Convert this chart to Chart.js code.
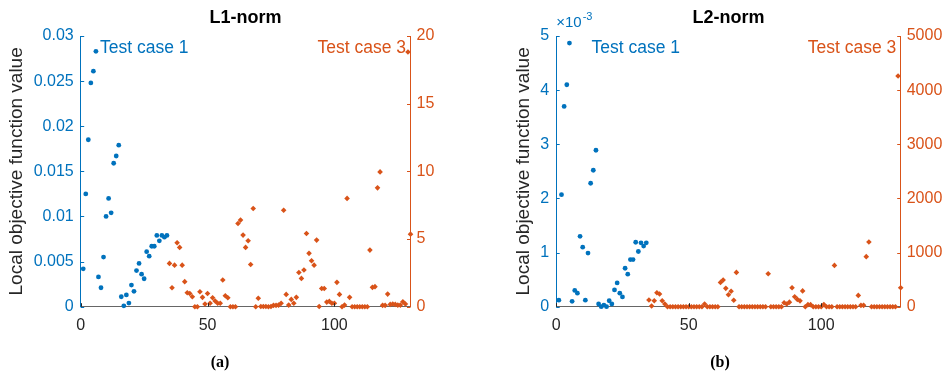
<!DOCTYPE html>
<html>
<head>
<meta charset="utf-8">
<title>Local objective function value</title>
<script src="https://cdn.jsdelivr.net/npm/chart.js@4.4.1/dist/chart.umd.min.js"></script>
<style>
  html, body { margin: 0; padding: 0; background: #fff; }
  #wrap { position: relative; width: 946px; height: 375px; }
  #wrap canvas { position: absolute; top: 0; }
</style>
</head>
<body>
<div id="wrap">
  <canvas id="l1" width="473" height="375" style="left:0"></canvas>
  <canvas id="l2" width="473" height="375" style="left:473px"></canvas>
</div>
<script>
const BLUE = "#0072BD";
const ORANGE = "#D95319";
const AXIS = "#262626";
const SANS = "'Liberation Sans', Arial, Helvetica, sans-serif";

// iteration where each series starts
const case1Start = 1;
const case3Start = 35;

// L1-norm, test case 1 (left axis)
const l1Case1 = [
  0.0042, 0.0125, 0.0185, 0.0248, 0.0261, 0.0283, 0.0033, 0.0021, 0.0055, 0.0100,
  0.0120, 0.0104, 0.0159, 0.0167, 0.0179, 0.0011, 0.0001, 0.0013, 0.0004, 0.0024,
  0.0017, 0.0040, 0.0048, 0.0036, 0.0031, 0.0061, 0.0056, 0.0067, 0.0067, 0.0079,
  0.0073, 0.0079, 0.0077, 0.0079
];
// L1-norm, test case 3 (right axis)
const l1Case3 = [
  3.20, 1.40, 3.07, 4.72, 4.38, 3.07, 1.85, 1.03, 0.98, 0.74,
  0.00, 0.00, 1.11, 0.69, 0.20, 0.98, 0.25, 0.66, 0.42, 0.25,
  0.25, 1.97, 0.81, 0.66, 0.00, 0.00, 0.00, 6.15, 6.40, 5.29,
  4.38, 4.87, 3.12, 7.26, 0.00, 0.62, 0.02, 0.02, 0.02, 0.00,
  0.02, 0.10, 0.10, 0.12, 0.25, 7.13, 0.91, 0.12, 0.54, 0.25,
  0.69, 2.53, 2.09, 2.71, 5.41, 3.94, 3.39, 3.07, 4.92, 0.02,
  1.35, 1.35, 0.34, 0.39, 0.25, 0.25, 1.80, 0.91, 0.00, 0.12,
  8.00, 0.69, 0.00, 0.00, 0.00, 0.00, 0.00, 0.00, 0.00, 4.18,
  1.43, 1.48, 8.78, 9.96, 0.10, 0.10, 0.93, 0.17, 0.20, 0.17,
  0.12, 0.12, 0.37, 0.20, 18.82, 5.36
];
// L2-norm, test case 1 (left axis, in units of 10^-3)
const l2Case1 = [
  0.12, 2.07, 3.70, 4.10, 4.87, 0.10, 0.30, 0.25, 1.30, 1.10,
  0.12, 0.99, 2.28, 2.52, 2.89, 0.05, 0.00, 0.03, 0.00, 0.11,
  0.05, 0.31, 0.44, 0.25, 0.18, 0.71, 0.60, 0.87, 0.87, 1.19,
  1.02, 1.18, 1.12, 1.18
];
// L2-norm, test case 3 (right axis)
const l2Case3 = [
  123, 12, 111, 259, 234, 111, 49, 0, 0, 0,
  0, 0, 0, 0, 0, 0, 0, 0, 0, 0,
  0, 50, 0, 0, 0, 0, 0, 449, 493, 339,
  222, 286, 120, 634, 0, 0, 0, 0, 0, 0,
  0, 0, 0, 0, 0, 609, 0, 0, 0, 0,
  0, 74, 49, 84, 351, 185, 135, 108, 292, 0,
  38, 38, 0, 0, 0, 0, 40, 0, 0, 0,
  763, 0, 0, 0, 0, 0, 0, 0, 0, 209,
  25, 25, 924, 1194, 0, 0, 0, 0, 0, 0,
  0, 0, 0, 0, 4260, 351
];

const xTicks = [0, 50, 100];
const l1LeftTicks = [0, 0.005, 0.01, 0.015, 0.02, 0.025, 0.03];
const l1RightTicks = [0, 5, 10, 15, 20];
const l2LeftTicks = [0, 0.001, 0.002, 0.003, 0.004, 0.005];
const l2RightTicks = [0, 1000, 2000, 3000, 4000, 5000];

function toPoints(start, values, factor) {
  return values.map((v, i) => ({ x: start + i, y: v * factor }));
}

// inward tick marks, titles, labels and captions
const decor = {
  id: "decor",
  afterDraw(chart, args, o) {
    const { ctx, chartArea: a, scales } = chart;
    ctx.save();
    ctx.lineWidth = 1;
    const len = 3.5;

    ctx.strokeStyle = AXIS;
    scales.x.ticks.forEach(t => {
      const px = Math.round(scales.x.getPixelForValue(t.value)) + 0.5;
      ctx.beginPath(); ctx.moveTo(px, a.bottom); ctx.lineTo(px, a.bottom - len); ctx.stroke();
    });
    ctx.strokeStyle = BLUE;
    scales.y.ticks.forEach(t => {
      const py = Math.round(scales.y.getPixelForValue(t.value)) + 0.5;
      ctx.beginPath(); ctx.moveTo(a.left, py); ctx.lineTo(a.left + len, py); ctx.stroke();
    });
    ctx.strokeStyle = ORANGE;
    scales.y1.ticks.forEach(t => {
      const py = Math.round(scales.y1.getPixelForValue(t.value)) + 0.5;
      ctx.beginPath(); ctx.moveTo(a.right, py); ctx.lineTo(a.right - len, py); ctx.stroke();
    });

    // panel title
    ctx.fillStyle = "#000";
    ctx.font = "bold 18px " + SANS;
    ctx.textAlign = "center";
    ctx.textBaseline = "middle";
    ctx.fillText(o.title, (a.left + a.right) / 2, 18);

    // y axis title
    ctx.save();
    ctx.translate(o.yTitleX, (a.top + a.bottom) / 2);
    ctx.rotate(-Math.PI / 2);
    ctx.fillStyle = AXIS;
    ctx.font = "19px " + SANS;
    ctx.fillText("Local objective function value", 0, 0);
    ctx.restore();

    // series labels
    ctx.font = "17.5px " + SANS;
    o.labels.forEach(l => {
      ctx.fillStyle = l.color;
      ctx.textAlign = l.align;
      ctx.fillText(l.text, l.x, 48);
    });

    // exponent of the left axis
    if (o.exponent) {
      ctx.fillStyle = BLUE;
      ctx.textAlign = "left";
      ctx.textBaseline = "alphabetic";
      ctx.font = "15px " + SANS;
      ctx.fillText("\u00d710", a.left, 27);
      const w = ctx.measureText("\u00d710").width;
      ctx.font = "11px " + SANS;
      ctx.fillText(o.exponent, a.left + w + 1, 20);
    }

    // caption
    ctx.fillStyle = "#000";
    ctx.font = "bold 16px 'Liberation Serif', 'Times New Roman', serif";
    ctx.textAlign = "center";
    ctx.textBaseline = "middle";
    ctx.fillText(o.caption, o.captionX, 363);
    ctx.restore();
  }
};

function fixedTicks(list) {
  return scale => { scale.ticks = list.map(v => ({ value: v })); };
}

function makePanel(id, p) {
  return new Chart(document.getElementById(id), {
    type: "scatter",
    data: {
      datasets: [
        { data: p.case1, yAxisID: "y", pointStyle: "circle", pointRadius: 2.4,
          backgroundColor: BLUE, borderWidth: 0, clip: false },
        { data: p.case3, yAxisID: "y1", pointStyle: "rectRot", pointRadius: 2.8,
          backgroundColor: ORANGE, borderWidth: 0, clip: false }
      ]
    },
    options: {
      responsive: false,
      animation: false,
      devicePixelRatio: 1,
      events: [],
      layout: { padding: { left: 0, right: 0, top: 36, bottom: 40 } },
      plugins: {
        legend: { display: false },
        tooltip: { enabled: false },
        decor: p.decor
      },
      scales: {
        x: {
          type: "linear", min: 0, max: 130,
          afterBuildTicks: fixedTicks(xTicks),
          afterFit: s => { s.height = 28.3; },
          grid: { display: false, drawTicks: false },
          border: { color: "#666", width: 1 },
          ticks: { color: AXIS, padding: 9, font: { family: SANS, size: 16 } }
        },
        y: {
          position: "left", min: 0, max: p.leftTicks[p.leftTicks.length - 1],
          afterBuildTicks: fixedTicks(p.leftTicks),
          afterFit: s => { s.width = p.leftWidth; },
          grid: { display: false, drawTicks: false },
          border: { color: BLUE, width: 1 },
          ticks: { color: BLUE, padding: 7, font: { family: SANS, size: 16 }, callback: p.leftLabel }
        },
        y1: {
          position: "right", min: 0, max: p.rightTicks[p.rightTicks.length - 1],
          afterBuildTicks: fixedTicks(p.rightTicks),
          afterFit: s => { s.width = p.rightWidth; },
          grid: { display: false, drawTicks: false },
          border: { color: ORANGE, width: 1 },
          ticks: { color: ORANGE, padding: 6, font: { family: SANS, size: 16 }, callback: v => String(v) }
        }
      }
    },
    plugins: [decor]
  });
}

makePanel("l1", {
  case1: toPoints(case1Start, l1Case1, 1),
  case3: toPoints(case3Start, l1Case3, 1),
  leftTicks: l1LeftTicks,
  rightTicks: l1RightTicks,
  leftWidth: 80.7,
  rightWidth: 62.5,
  leftLabel: v => String(Math.round(v * 1e4) / 1e4),
  decor: {
    title: "L1-norm", yTitleX: 17, caption: "(a)", captionX: 220,
    labels: [
      { text: "Test case 1", x: 100, align: "left", color: BLUE },
      { text: "Test case 3", x: 406, align: "right", color: ORANGE }
    ]
  }
});

makePanel("l2", {
  case1: toPoints(case1Start, l2Case1, 1e-3),
  case3: toPoints(case3Start, l2Case3, 1),
  leftTicks: l2LeftTicks,
  rightTicks: l2RightTicks,
  leftWidth: 83.2,
  rightWidth: 45.3,
  leftLabel: v => String(Math.round(v * 1e3)),
  decor: {
    title: "L2-norm", yTitleX: 51, caption: "(b)", captionX: 247, exponent: "-3",
    labels: [
      { text: "Test case 1", x: 118.5, align: "left", color: BLUE },
      { text: "Test case 3", x: 423.3, align: "right", color: ORANGE }
    ]
  }
});
</script>
</body>
</html>
